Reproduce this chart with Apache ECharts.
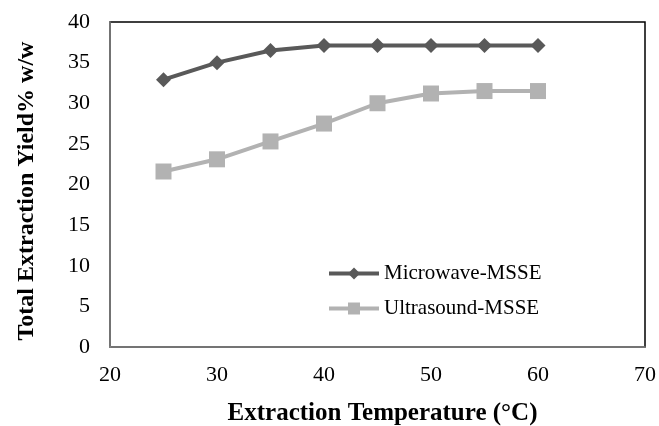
<!DOCTYPE html>
<html>
<head>
<meta charset="utf-8">
<script src="https://cdn.jsdelivr.net/npm/echarts@6/dist/echarts.min.js"></script>
<style>
  html, body { margin: 0; padding: 0; background: #fff; }
  #chart { width: 659px; height: 426px; }
</style>
</head>
<body>
<div id="chart"></div>
<script>
// Extraction temperature (°C)
const temperatures = [25, 30, 35, 40, 45, 50, 55, 60];
// Total extraction yield (% w/w)
const microwaveYield = [32.9, 35.0, 36.5, 37.1, 37.1, 37.1, 37.1, 37.1];
const ultrasoundYield = [21.6, 23.1, 25.3, 27.5, 30.0, 31.2, 31.5, 31.5];
const seriesNames = ['Microwave-MSSE', 'Ultrasound-MSSE'];

const serif = '"Liberation Serif", "Times New Roman", serif';

const chart = echarts.init(document.getElementById('chart'));
chart.setOption({
  animation: false,
  backgroundColor: '#fff',
  grid: {
    left: 110, right: 14, top: 22, bottom: 79,
    outerBoundsMode: 'none',
    containLabel: false,
    show: true, borderColor: '#000', borderWidth: 1.5, backgroundColor: 'transparent'
  },
  legend: {
    orient: 'vertical',
    left: 327, top: 263,
    padding: 0,
    itemWidth: 50, itemHeight: 15, itemGap: 14,
    data: seriesNames,
    lineStyle: { width: 4 },
    textStyle: { fontFamily: serif, fontSize: 21, color: '#000' }
  },
  xAxis: {
    type: 'value', min: 20, max: 70, interval: 10,
    name: 'Extraction Temperature (°C)',
    nameLocation: 'middle', nameGap: 54,
    nameTextStyle: { fontFamily: serif, fontSize: 25, fontWeight: 'bold', color: '#000', padding: [0, 0, 0, 10] },
    axisLine: { show: true, lineStyle: { color: '#868686', width: 1.5 } },
    axisTick: { show: false },
    splitLine: { show: false },
    axisLabel: { fontFamily: serif, fontSize: 22, color: '#000', margin: 17 }
  },
  yAxis: {
    type: 'value', min: 0, max: 40, interval: 5,
    name: 'Total Extraction Yield% w/w',
    nameLocation: 'middle', nameGap: 71,
    nameTextStyle: { fontFamily: serif, fontSize: 24, fontWeight: 'bold', color: '#000', padding: [0, 13, 0, 0] },
    axisLine: { show: true, lineStyle: { color: '#868686', width: 1.5 } },
    axisTick: { show: false },
    splitLine: { show: false },
    axisLabel: { fontFamily: serif, fontSize: 22, color: '#000', margin: 20 }
  },
  series: [
    {
      name: seriesNames[0], type: 'line',
      data: temperatures.map((t, i) => [t, microwaveYield[i]]),
      symbol: 'diamond', symbolSize: 15,
      lineStyle: { color: '#595959', width: 4 },
      itemStyle: { color: '#595959' }
    },
    {
      name: seriesNames[1], type: 'line',
      data: temperatures.map((t, i) => [t, ultrasoundYield[i]]),
      symbol: 'rect', symbolSize: 16,
      lineStyle: { color: '#b2b2b2', width: 4 },
      itemStyle: { color: '#b2b2b2' }
    }
  ]
});
</script>
</body>
</html>
